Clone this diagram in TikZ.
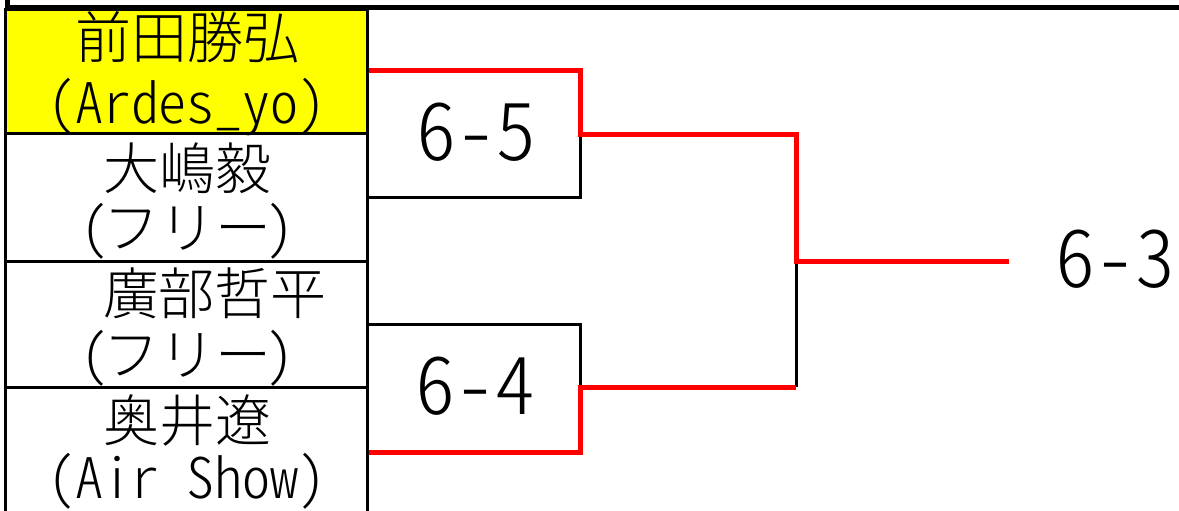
\documentclass[tikz,border=0pt]{standalone}
\usepackage{fontspec}
\newfontfamily\jp[UprightFont={* Light}]{Noto Sans CJK JP}
\newfontfamily\hw[UprightFont={* Light},RawFeature=+hwid]{Noto Sans CJK JP}
\definecolor{cellyellow}{HTML}{FFFF00}
\definecolor{winred}{HTML}{FF0000}
\newcommand\freetext{{\hw(}\kern-5pt フリー\kern-5pt{\hw)}}
\tikzset{
  cellbox/.style={draw=black, line width=3pt, minimum width=361.5pt, inner sep=0pt, outer sep=0pt},
  nm/.style={anchor=base, inner sep=0pt, font=\jp\fontsize{56}{56}\selectfont},
  score/.style={anchor=base, inner sep=0pt, font=\hw\fontsize{80}{80}\selectfont},
  win/.style={draw=winred, line width=5pt},
  lose/.style={draw=black, line width=3pt},
}
\begin{document}
\begin{tikzpicture}[x=1pt,y=-1pt]
\useasboundingbox (0,0) rectangle (1179,511);
\clip (0,0) rectangle (1179,511);
\fill[white] (0,0) rectangle (1179,511);
% table cells
\node[cellbox, fill=cellyellow, minimum height=123pt] (c1) at (186.25,71.5) {};
\node[cellbox, minimum height=128pt] (c2) at (186.25,197) {};
\node[cellbox, minimum height=126pt] (c3) at (186.25,324) {};
\node[cellbox, minimum height=133pt] (c4) at (186.25,453.5) {};
% top rule
\coordinate (tl) at (7,7.5);
\coordinate (tr) at (1179,7.5);
\draw[line width=5pt] (tl) -- (tr);
\coordinate (lt) at (7.5,0);
\coordinate (lb) at (7.5,10);
\draw[line width=5pt] (lt) -- (lb);
% names
\node[nm] (n1a) at (187,59) {前田勝弘};
\node[nm] (n1b) at (187,123) {\hw (Ardes\_yo)};
\node[nm] (n2a) at (187,189) {大嶋毅};
\node[nm] (n2b) at (187,248) {\freetext};
\node[nm] (n3a) at (187,314) {　廣部哲平};
\node[nm] (n3b) at (187,375) {\freetext};
\node[nm] (n4a) at (187,441) {奥井遼};
\node[nm] (n4b) at (187,498) {\hw (Air Show)};
% bracket coordinates
\coordinate (p1) at (369,71);
\coordinate (p2) at (369,197);
\coordinate (p3) at (369,324);
\coordinate (p4) at (369,452);
\coordinate (m1) at (580,134);
\coordinate (m2) at (580,387);
\coordinate (f) at (796,261);
\coordinate (fb) at (796,387);
\coordinate (champ) at (1009,261);
% losing lines
\draw[lose] (p2) -| (m1);
\draw[lose] (p3) -| (m2);
\draw[lose] (fb) -- (f);
% winning lines
\draw[win] (p1) -| (m1) -| (f) -- (champ);
\draw[win] (p4) -| (m2) -- (fb);
% scores
\node[score] (s1) at (476,160) {6-5};
\node[score] (s2) at (475,414) {6-4};
\node[score] (s3) at (1115,287) {6-3};
\end{tikzpicture}
\end{document}
